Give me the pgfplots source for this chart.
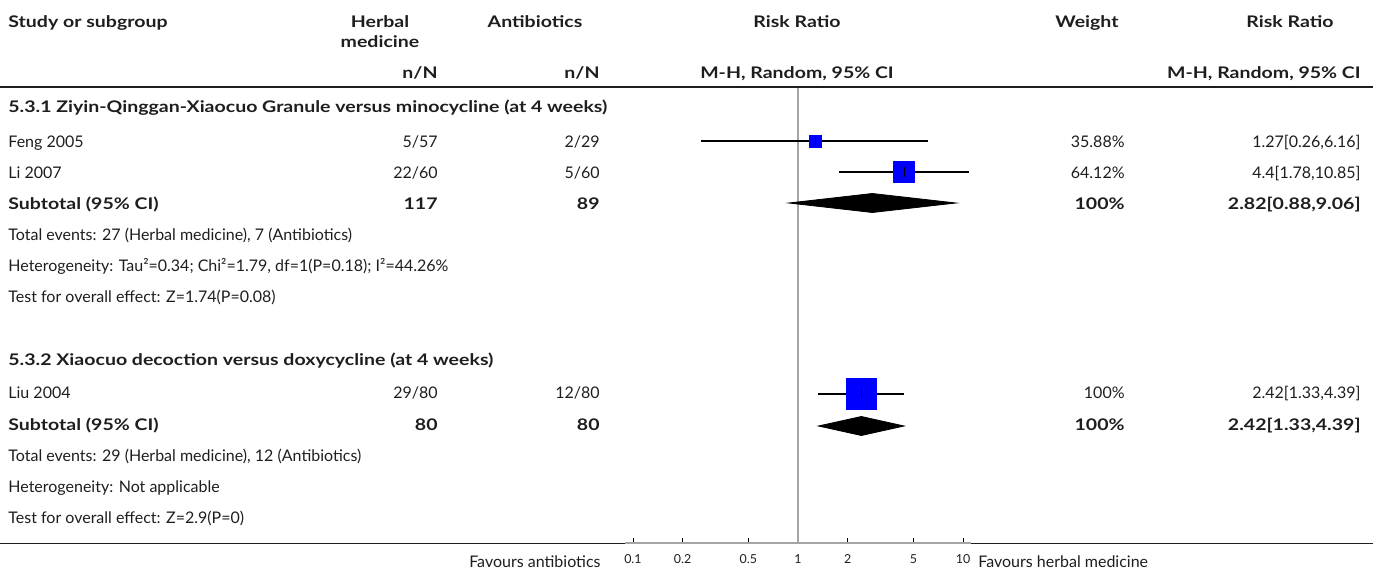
\documentclass[border=0pt]{standalone}
\usepackage{pgfplots}
\pgfplotsset{compat=1.18}
\usepackage{fontspec}
\setmainfont{Lato}[BoldFeatures={FakeStretch=1.22}]
\definecolor{sqblue}{RGB}{0,0,255}
\definecolor{refgray}{RGB}{165,165,165}
\definecolor{txt}{RGB}{30,30,30}
\tikzset{
  t/.style={font=\fontsize{8}{9}\selectfont, text=txt, inner sep=0pt},
  b/.style={font=\fontsize{8}{9}\selectfont\bfseries, text=txt, inner sep=0pt},
}
\begin{document}
\begin{tikzpicture}
\useasboundingbox (0,0) rectangle (686.5pt,-286pt);
% table rules
\draw[txt, line width=1pt] (0,-43.5pt) -- (686.5pt,-43.5pt);
\draw[txt, line width=0.9pt] (0,-271.75pt) -- (686.5pt,-271.75pt);

\begin{axis}[
  at={(312.5pt,-271.5pt)}, anchor=south west,
  scale only axis, width=173pt, height=227.5pt,
  xmode=log, xmin=0.0895, xmax=11.17,
  ymin=-543, ymax=-88,
  axis x line*=bottom, axis y line=none,
  x axis line style={refgray, line width=0.8pt},
  xtick={0.1,0.2,0.5,1,2,5,10},
  xticklabels={0.1,0.2,0.5,1,2,5,10},
  minor xtick={},
  tick align=inside, major tick length=2.4pt,
  tick style={black, line width=0.45pt},
  xticklabel style={font=\fontsize{6.2}{7}\selectfont, text=txt, inner sep=1pt, yshift=-4.5pt},
  clip=false,
]
% line of no effect
\draw[refgray, line width=0.8pt] (axis cs:1,-88) -- (axis cs:1,-543);

% Feng 2005
\addplot[only marks, mark=square*, mark size=3pt, color=sqblue] coordinates {(1.27,-141)};
\addplot[black, line width=0.6pt] coordinates {(0.26,-141) (6.16,-141)};
\addplot[only marks, mark=|, mark size=2pt, mark options={line width=0.6pt}, black] coordinates {(1.27,-141)};
% Li 2007
\addplot[only marks, mark=square*, mark size=5.25pt, color=sqblue] coordinates {(4.4,-172)};
\addplot[black, line width=0.6pt] coordinates {(1.78,-172) (10.85,-172)};
\addplot[only marks, mark=|, mark size=2.5pt, mark options={line width=0.6pt}, black] coordinates {(4.4,-172)};
% Subtotal 5.3.1
\addplot[fill=black, draw=black] coordinates {(0.88,-203) (2.82,-193.5) (9.06,-203) (2.82,-212.5)} -- cycle;

% Liu 2004
\addplot[only marks, mark=square*, mark size=7.6pt, color=sqblue] coordinates {(2.42,-394)};
\addplot[black, line width=0.6pt] coordinates {(1.33,-394) (4.39,-394)};
\addplot[only marks, mark=|, mark size=2.5pt, mark options={line width=0.6pt}, black] coordinates {(2.42,-394)};
% Subtotal 5.3.2
\addplot[fill=black, draw=black] coordinates {(1.33,-426) (2.42,-416.5) (4.39,-426) (2.42,-435.5)} -- cycle;
\end{axis}

\begin{scope}[x=0.5pt,y=-0.5pt]
% header
\node[b, anchor=mid west] at (8,22) {Study or subgroup};
\node[b, anchor=mid] at (380,22) {Herbal};
\node[b, anchor=mid] at (380,42) {medicine};
\node[b, anchor=mid] at (535,22) {Antibiotics};
\node[b, anchor=mid] at (797,22) {Risk Ratio};
\node[b, anchor=mid] at (1087,22) {Weight};
\node[b, anchor=mid] at (1290,22) {Risk Ratio};
\node[b, anchor=mid east] at (438,73) {n/N};
\node[b, anchor=mid east] at (600,73) {n/N};
\node[b, anchor=mid] at (797,73) {M-H, Random, 95\% CI};
\node[b, anchor=mid east] at (1361,73) {M-H, Random, 95\% CI};

% group 5.3.1
\node[b, anchor=mid west] at (8,107) {5.3.1 Ziyin-Qinggan-Xiaocuo Granule versus minocycline (at 4 weeks)};
\node[t, anchor=mid west] at (8,142) {Feng 2005};
\node[t, anchor=mid east] at (438,142) {5/57};
\node[t, anchor=mid east] at (600,142) {2/29};
\node[t, anchor=mid east] at (1125,142) {35.88\%};
\node[t, anchor=mid east] at (1361,142) {1.27[0.26,6.16]};
\node[t, anchor=mid west] at (8,173) {Li 2007};
\node[t, anchor=mid east] at (438,173) {22/60};
\node[t, anchor=mid east] at (600,173) {5/60};
\node[t, anchor=mid east] at (1125,173) {64.12\%};
\node[t, anchor=mid east] at (1361,173) {4.4[1.78,10.85]};
\node[b, anchor=mid west] at (8,204) {Subtotal (95\% CI)};
\node[b, anchor=mid east] at (438,204) {117};
\node[b, anchor=mid east] at (600,204) {89};
\node[b, anchor=mid east] at (1125,204) {100\%};
\node[b, anchor=mid east] at (1361,204) {2.82[0.88,9.06]};
\node[t, anchor=mid west] at (8,235) {Total events: 27 (Herbal medicine), 7 (Antibiotics)};
\node[t, anchor=mid west] at (8,266) {Heterogeneity: Tau²=0.34; Chi²=1.79, df=1(P=0.18); I²=44.26\%};
\node[t, anchor=mid west] at (8,297) {Test for overall effect: Z=1.74(P=0.08)};

% group 5.3.2
\node[b, anchor=mid west] at (8,360) {5.3.2 Xiaocuo decoction versus doxycycline (at 4 weeks)};
\node[t, anchor=mid west] at (8,393) {Liu 2004};
\node[t, anchor=mid east] at (438,393) {29/80};
\node[t, anchor=mid east] at (600,393) {12/80};
\node[t, anchor=mid east] at (1125,393) {100\%};
\node[t, anchor=mid east] at (1361,393) {2.42[1.33,4.39]};
\node[b, anchor=mid west] at (8,425) {Subtotal (95\% CI)};
\node[b, anchor=mid east] at (438,425) {80};
\node[b, anchor=mid east] at (600,425) {80};
\node[b, anchor=mid east] at (1125,425) {100\%};
\node[b, anchor=mid east] at (1361,425) {2.42[1.33,4.39]};
\node[t, anchor=mid west] at (8,456) {Total events: 29 (Herbal medicine), 12 (Antibiotics)};
\node[t, anchor=mid west] at (8,487) {Heterogeneity: Not applicable};
\node[t, anchor=mid west] at (8,518) {Test for overall effect: Z=2.9(P=0)};

% favours labels
\node[t, anchor=mid east] at (601,562) {Favours antibiotics};
\node[t, anchor=mid west] at (978,562) {Favours herbal medicine};
\end{scope}
\end{tikzpicture}
\end{document}
